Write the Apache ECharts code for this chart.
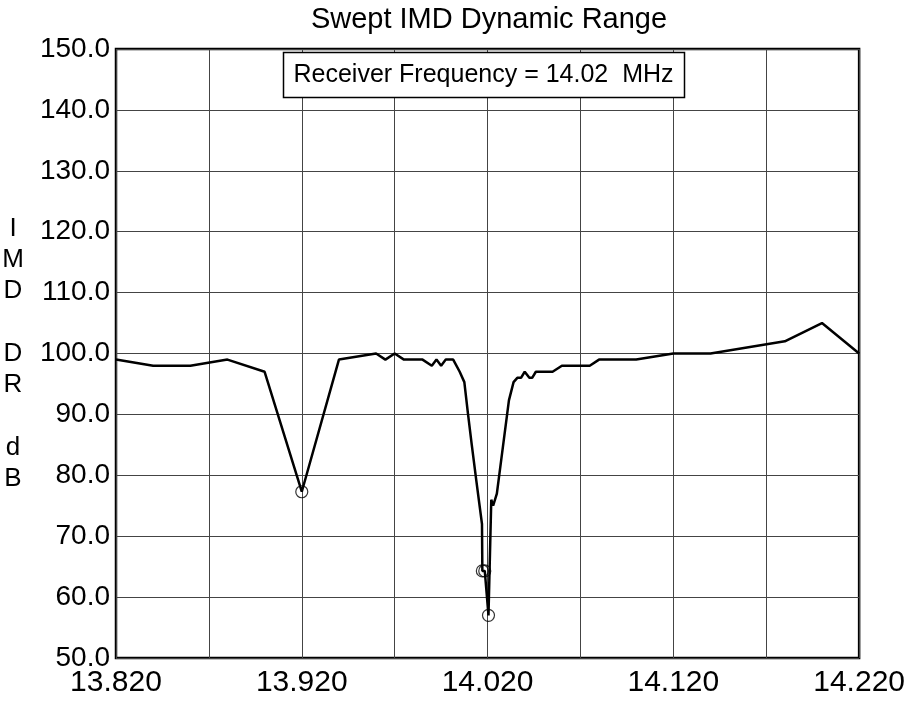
<!DOCTYPE html>
<html>
<head>
<meta charset="utf-8">
<script src="https://cdn.jsdelivr.net/npm/echarts@6/dist/echarts.min.js"></script>
<style>
html,body{margin:0;padding:0;background:#fff;}
#chart{width:908px;height:711px;}
</style>
</head>
<body>
<div id="chart"></div>
<script>
// ---- data ----
const freqMHz = [13.820, 13.840, 13.860, 13.880, 13.900, 13.920, 13.940, 13.960, 13.965, 13.970,
  13.975, 13.985, 13.990, 13.9925, 13.995, 13.9975, 14.0015, 14.005, 14.0075, 14.0095,
  14.0115, 14.014, 14.017, 14.0172, 14.0185, 14.0205, 14.022, 14.023, 14.025, 14.0315, 14.034,
  14.036, 14.038, 14.040, 14.0425, 14.044, 14.046, 14.055, 14.060, 14.075, 14.080,
  14.100, 14.120, 14.140, 14.180, 14.200, 14.220];
const imdDR = [99.0, 98.0, 98.0, 99.0, 97.0, 77.3, 99.0, 100.0, 99.0, 100.0,
  99.0, 99.0, 98.0, 99.0, 98.0, 99.0, 99.0, 97.0, 95.3, 90.0,
  85.0, 79.0, 72.0, 64.3, 64.3, 57.0, 76.0, 75.0, 77.0, 92.3, 95.3,
  96.0, 96.0, 97.0, 96.0, 96.0, 97.0, 97.0, 98.0, 98.0, 99.0,
  99.0, 100.0, 100.0, 102.0, 105.0, 100.0];
const markFreq = [13.920, 14.0172, 14.0185, 14.0205];
const markDR = [77.3, 64.3, 64.3, 57.0];
const xTickLabels = ['13.820', '13.920', '14.020', '14.120', '14.220'];
const xStart = 13.82;
const titleText = 'Swept IMD Dynamic Range';
const boxText = 'Receiver Frequency = 14.02  MHz';
const yTitle = 'I\nM\nD\n\nD\nR\n\nd\nB';

const FONT = '"Liberation Sans", Arial, sans-serif';
const chart = echarts.init(document.getElementById('chart'), null, {renderer: 'canvas'});

const lineData = freqMHz.map((f, i) => [f - xStart, imdDR[i]]);
const markData = markFreq.map((f, i) => [f - xStart, markDR[i]]);

chart.setOption({
  backgroundColor: '#fff',
  animation: false,
  grid: {left: 116, right: 46, top: 49, bottom: 53, show: true, borderColor: '#000', borderWidth: 2.5, backgroundColor: 'transparent'},
  xAxis: {
    type: 'value', min: 0, max: 0.4, interval: 0.05,
    axisLine: {show: false}, axisTick: {show: false},
    splitLine: {show: true, lineStyle: {color: '#444', width: 1}},
    axisLabel: {
      fontFamily: FONT, fontSize: 30, color: '#000', margin: 10,
      formatter: (v, idx) => (idx % 2 === 0 ? xTickLabels[idx / 2] : '')
    }
  },
  yAxis: {
    type: 'value', min: 50, max: 150, interval: 10,
    axisLine: {show: false}, axisTick: {show: false},
    splitLine: {show: true, lineStyle: {color: '#444', width: 1}},
    axisLabel: {fontFamily: FONT, fontSize: 28, color: '#000', margin: 6, formatter: v => v.toFixed(1)}
  },
  graphic: [
    {type: 'text', x: 489, y: 20, style: {text: titleText, font: '29px ' + FONT, fill: '#000', align: 'center', verticalAlign: 'middle'}},
    {type: 'rect', shape: {x: 283.5, y: 52.5, width: 401, height: 45}, style: {fill: '#fff', stroke: '#000', lineWidth: 1.5}, z: 100},
    {type: 'text', x: 483.5, y: 75, style: {text: boxText, font: '25px ' + FONT, fill: '#000', align: 'center', verticalAlign: 'middle'}, z: 101},
    {type: 'text', x: 13, y: 213, style: {text: yTitle, font: '26px ' + FONT, fill: '#000', align: 'center', lineHeight: 31.25}}
  ],
  series: [
    {type: 'line', data: lineData, symbol: 'none', lineStyle: {color: '#000', width: 2.5}, z: 5},
    {type: 'scatter', data: markData, symbol: 'circle', symbolSize: 12,
      itemStyle: {color: 'transparent', borderColor: '#000', borderWidth: 1.2}, z: 6}
  ]
});
</script>
</body>
</html>
